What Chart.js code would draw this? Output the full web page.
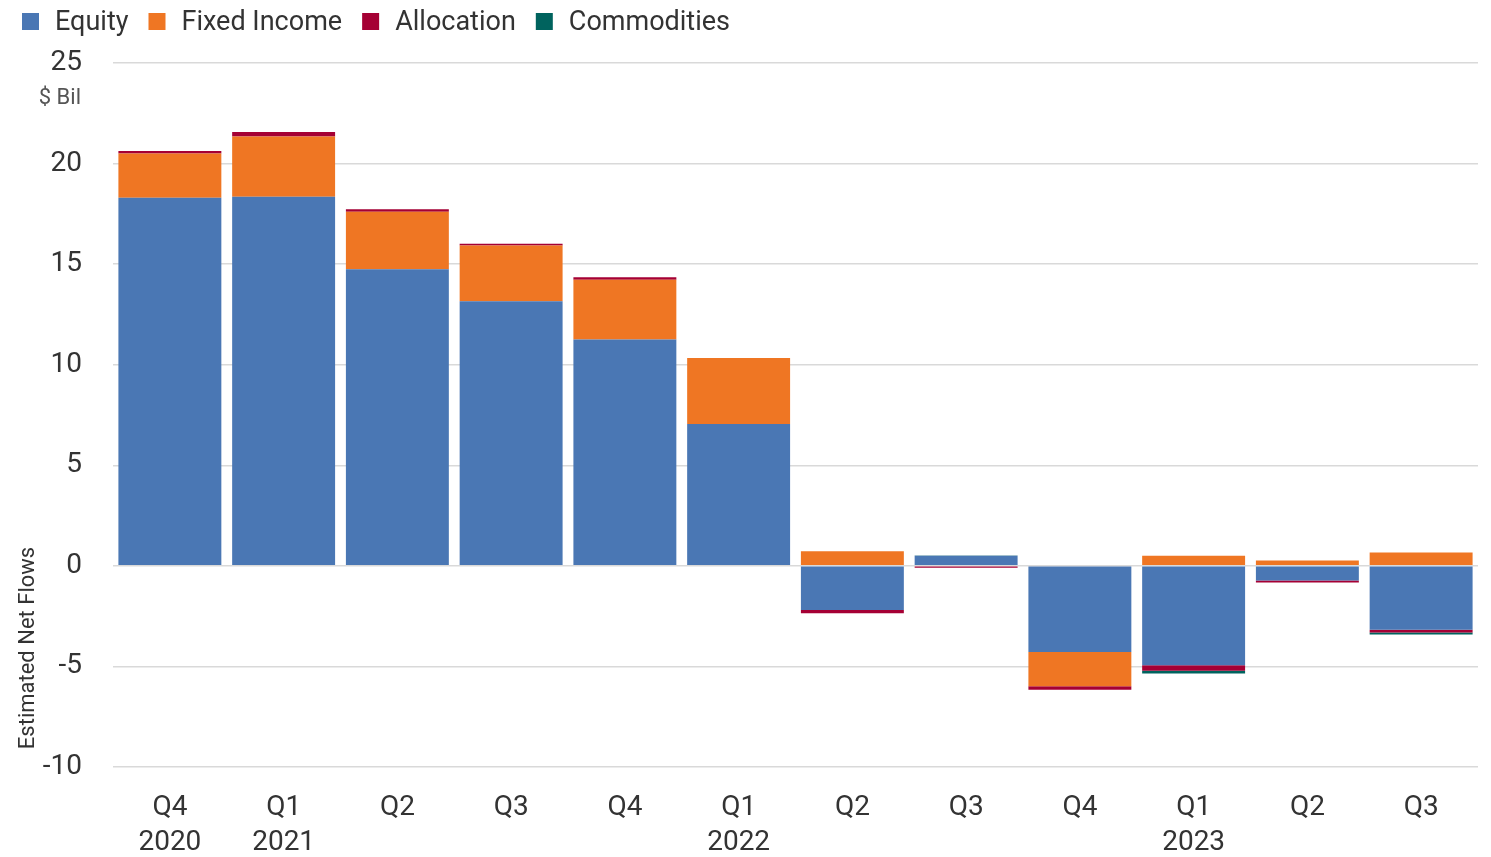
<!DOCTYPE html>
<html>
<head>
<meta charset="utf-8">
<script src="https://cdn.jsdelivr.net/npm/chart.js@4/dist/chart.umd.min.js"></script>
<style>
  html, body { margin: 0; padding: 0; background: #fff; }
  #wrap { position: relative; width: 1491px; height: 857px; }
</style>
</head>
<body>
<div id="wrap"><canvas id="flowChart" width="1491" height="857"></canvas></div>
<script>
const quarters = [['Q4', '2020'], ['Q1', '2021'], 'Q2', 'Q3', 'Q4', ['Q1', '2022'], 'Q2', 'Q3', 'Q4', ['Q1', '2023'], 'Q2', 'Q3'];

// estimated net flows, $ billions
const equity = [18.3, 18.35, 14.75, 13.15, 11.25, 7.05, -2.2, 0.5, -4.28, -4.94, -0.73, -3.18];
const fixedIncome = [2.2, 3.0, 2.85, 2.78, 2.98, 3.29, 0.73, 0, -1.7, 0.5, 0.27, 0.67];
const allocation = [0.12, 0.22, 0.13, 0.09, 0.12, 0, -0.15, -0.1, -0.18, -0.28, -0.1, -0.13];
const commodities = [0, 0, 0, 0, 0, 0, 0, 0.02, 0, -0.13, 0, -0.1];

const yTicks = [-10, -5, 0, 5, 10, 15, 20, 25];

const FONT = 'Roboto, "Liberation Sans", sans-serif';
const TEXT = '#333333';

// legend, unit label and rotated axis title drawn straight onto the canvas
const annotations = {
  id: 'annotations',
  afterDraw(chart) {
    const { ctx } = chart;
    ctx.save();
    ctx.font = `27px ${FONT}`;
    ctx.textBaseline = 'middle';
    ctx.textAlign = 'left';
    let x = 22;
    chart.data.datasets.forEach((ds) => {
      ctx.fillStyle = ds.backgroundColor;
      ctx.fillRect(x, 13, 17, 17);
      ctx.fillStyle = TEXT;
      ctx.fillText(ds.label, x + 33, 23);
      x += 33 + ctx.measureText(ds.label).width + 20;
    });

    ctx.font = `22px ${FONT}`;
    ctx.fillStyle = '#555555';
    ctx.textAlign = 'right';
    ctx.fillText('$ Bil', 81, 98);

    ctx.translate(28, 648);
    ctx.rotate(-Math.PI / 2);
    ctx.textAlign = 'center';
    ctx.fillStyle = TEXT;
    ctx.font = `22px ${FONT}`;
    ctx.fillText('Estimated Net Flows', 0, 0);
    ctx.restore();
  },
};

const series = [
  { label: 'Equity', data: equity, backgroundColor: '#4a77b4' },
  { label: 'Fixed Income', data: fixedIncome, backgroundColor: '#ef7623' },
  { label: 'Allocation', data: allocation, backgroundColor: '#a50034' },
  { label: 'Commodities', data: commodities, backgroundColor: '#00635e' },
];

new Chart(document.getElementById('flowChart').getContext('2d'), {
  type: 'bar',
  data: {
    labels: quarters,
    datasets: series.map((s) => ({
      ...s,
      borderWidth: 0,
      barPercentage: 0.905,
      categoryPercentage: 1,
    })),
  },
  options: {
    responsive: false,
    animation: false,
    layout: { padding: { top: 63, right: 13, bottom: 0, left: 0 } },
    plugins: {
      legend: { display: false },
      tooltip: { enabled: false },
    },
    scales: {
      x: {
        stacked: true,
        afterFit(scale) {
          scale.height = 90;
        },
        grid: { display: false, drawTicks: false },
        border: { display: false },
        ticks: {
          color: TEXT,
          padding: 23,
          maxRotation: 0,
          autoSkip: false,
          font: { family: FONT, size: 28, lineHeight: 1.25 },
        },
      },
      y: {
        stacked: true,
        min: -10,
        max: 25,
        afterFit(scale) {
          scale.width = 113;
        },
        afterBuildTicks(scale) {
          scale.ticks = yTicks.map((v) => ({ value: v }));
        },
        border: { display: false },
        grid: {
          color: '#d9d9d9',
          lineWidth: 1.5,
          drawTicks: false,
        },
        ticks: {
          color: TEXT,
          padding: 31,
          font: { family: FONT, size: 28 },
        },
      },
    },
  },
  plugins: [annotations],
});
</script>
</body>
</html>
